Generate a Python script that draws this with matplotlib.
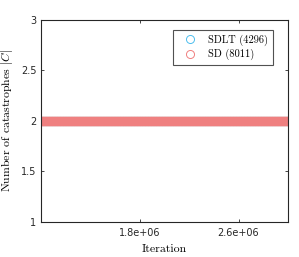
import numpy as np
import matplotlib
matplotlib.use("Agg")
import matplotlib.pyplot as plt

# Data
series_names = ["SDLT (4296)", "SD (8011)"]
series_counts = [4296, 8011]
series_values = [2, 2]          # number of catastrophes |C| (constant)
iter_start, iter_end = 1.0e6, 3.0e6
series_colors = ["#4DBEEE", "#F08080"]
xtick_vals = [1.8e6, 2.6e6]
xtick_labels = ["1.8e+06", "2.6e+06"]
ytick_vals = [1, 1.5, 2, 2.5, 3]
ytick_labels = ["1", "1.5", "2", "2.5", "3"]

plt.rcParams['mathtext.fontset'] = 'cm'
plt.rcParams['axes.formatter.use_mathtext'] = True

fig = plt.figure(figsize=(2.99, 2.57), dpi=100)
ax = fig.add_axes([40.5/299, 1 - 221.5/257, (288 - 40.5)/299, (221.5 - 20)/257])

for name, n, v, c in zip(series_names, series_counts, series_values, series_colors):
    x = np.linspace(iter_start, iter_end, n)
    y = np.full(n, v, dtype=float)
    ax.plot(x, y, linestyle='none', marker='o', markersize=5.8,
            markerfacecolor='none', markeredgecolor=c, markeredgewidth=0.7,
            label=name)

ax.set_xlim(iter_start, iter_end)
ax.set_ylim(1, 3)
ax.set_xticks(xtick_vals)
ax.set_xticklabels(xtick_labels)
ax.set_yticks(ytick_vals)
ax.set_yticklabels(ytick_labels)
ax.tick_params(direction='in', length=2.5, width=0.6, labelsize=7,
               top=True, right=True, colors='#262626')
ax.tick_params(axis='x', pad=5)
ax.tick_params(axis='y', pad=3)
for lab in ax.get_xticklabels() + ax.get_yticklabels():
    lab.set_fontfamily('DejaVu Sans')
for s in ax.spines.values():
    s.set_linewidth(0.8)
    s.set_color('#262626')

ax.set_xlabel("Iteration", fontfamily='cmr10', fontsize=8.5, labelpad=4)
ax.set_ylabel(r"Number of catastrophes $|C|$", fontfamily='cmr10', fontsize=8.5, labelpad=4)

leg = ax.legend(loc='upper right', bbox_to_anchor=(0.94, 0.95),
                prop={'family': 'cmr10', 'size': 7.5},
                frameon=True, fancybox=False, edgecolor='#262626',
                handlelength=2.4, handletextpad=0.6, borderpad=0.45,
                labelspacing=0.3, borderaxespad=0)
leg.get_frame().set_linewidth(0.8)

fig.savefig("out.png", dpi=100)
